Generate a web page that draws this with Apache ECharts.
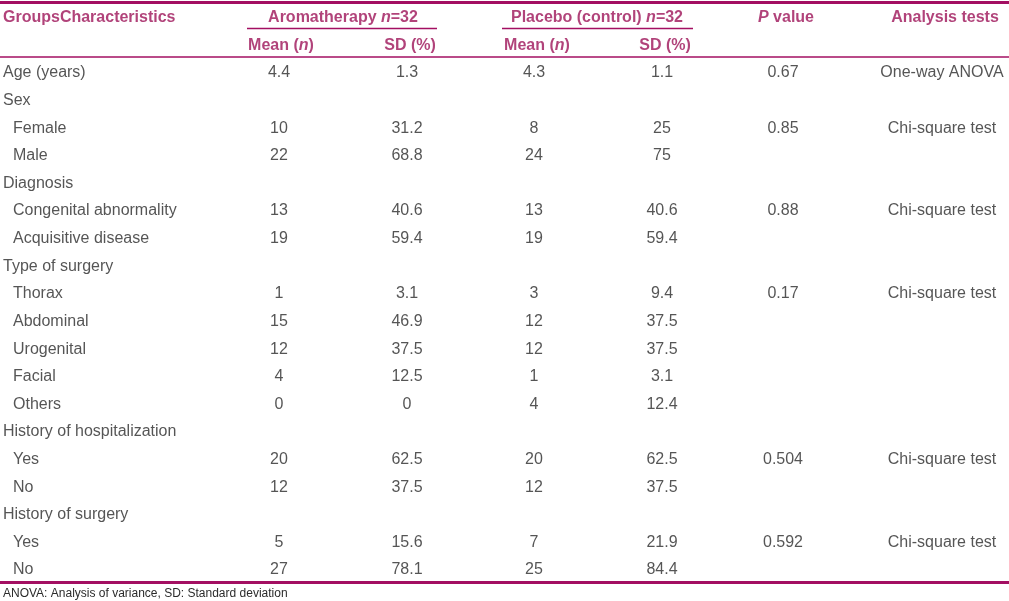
<!DOCTYPE html>
<html>
<head>
<meta charset="utf-8">
<script src="https://cdn.jsdelivr.net/npm/echarts@6/dist/echarts.min.js"></script>
<style>html,body{margin:0;padding:0;background:#fff}#chart{width:1009px;height:601px}</style>
</head>
<body>
<div id="chart"></div>
<script>
// ---------- DATA ----------
const characteristics = ['Age (years)','Sex','Female','Male','Diagnosis','Congenital abnormality','Acquisitive disease','Type of surgery','Thorax','Abdominal','Urogenital','Facial','Others','History of hospitalization','Yes','No','History of surgery','Yes','No'];
const level = [0,0,1,1,0,1,1,0,1,1,1,1,1,0,1,1,0,1,1];
const aromaMean = [4.4,null,10,22,null,13,19,null,1,15,12,4,0,null,20,12,null,5,27];
const aromaSD = [1.3,null,31.2,68.8,null,40.6,59.4,null,3.1,46.9,37.5,12.5,0,null,62.5,37.5,null,15.6,78.1];
const placeboMean = [4.3,null,8,24,null,13,19,null,3,12,12,1,4,null,20,12,null,7,25];
const placeboSD = [1.1,null,25,75,null,40.6,59.4,null,9.4,37.5,37.5,3.1,12.4,null,62.5,37.5,null,21.9,84.4];
const pValue = ['0.67',null,'0.85',null,null,'0.88',null,null,'0.17',null,null,null,null,null,'0.504',null,null,'0.592',null];
const tests = ['One-way ANOVA',null,'Chi-square test',null,null,'Chi-square test',null,null,'Chi-square test',null,null,null,null,null,'Chi-square test',null,null,'Chi-square test',null];
const headerTop = ['{b|GroupsCharacteristics}','{b|Aromatherapy }{bi|n}{b|=32}','{b|Placebo (control) }{bi|n}{b|=32}','{bi|P}{b| value}','{b|Analysis tests}'];
const headerSub = ['{b|Mean (}{bi|n}{b|)}','{b|SD (%)}','{b|Mean (}{bi|n}{b|)}','{b|SD (%)}'];
const footnote = 'ANOVA: Analysis of variance, SD: Standard deviation';

// ---------- LAYOUT / STYLE ----------
const FONT = "'Liberation Sans', Arial, sans-serif";
const TXT = '#2b2b2b';
const MAG = '#9e1459';
const LINE = '#a30f62';
const colX = { label: 3, indent: 13, aM: 279, aS: 407, pM: 534, pS: 662, p: 783, t: 942 };
const headTopX = [3, 343, 597, 786, 945];
const headSubX = [281, 410, 537, 665];
const rows = { top: -2, sub: -1, topLine: -2.5, underline: -1.557, headLine: -0.525, bottomLine: 18.5 };
const TEXT_SHIFT = [0, 2];

const fmt = v => (v === null || v === undefined) ? null : String(v);

function colData(arr, x) {
  const out = [];
  arr.forEach((v, i) => { const s = fmt(v); if (s !== null) out.push([x, i, s]); });
  return out;
}

const bodyLabel = (align) => ({
  show: true, position: 'inside', align: align, verticalAlign: 'middle', offset: TEXT_SHIFT,
  color: TXT, fontSize: 16, fontFamily: FONT,
  formatter: p => p.value[2]
});
const richHead = {
  b: { color: MAG, fontSize: 16, fontWeight: 'bold', fontFamily: FONT },
  bi: { color: MAG, fontSize: 16, fontWeight: 'bold', fontStyle: 'italic', fontFamily: FONT }
};
const headLabel = (align) => ({
  show: true, position: 'inside', align: align, verticalAlign: 'middle', offset: TEXT_SHIFT,
  rich: richHead, formatter: p => p.value[2]
});

function textSeries(data, align, head) {
  return {
    type: 'scatter', symbol: 'circle', symbolSize: 1, silent: true, clip: false, animation: false,
    data: data, label: head ? headLabel(align) : bodyLabel(align),
    itemStyle: { color: 'rgba(0,0,0,0)' },
    emphasis: { disabled: true }
  };
}

const labelData = characteristics.map((c, i) => [level[i] ? colX.indent : colX.label, i, c]);

const hTopData = headerTop.map((h, i) => [headTopX[i], rows.top, h]);
const hSubData = headerSub.map((h, i) => [headSubX[i], rows.sub, h]);

const lineSeg = (x1, x2, y, w) => [
  { coord: [x1, y], lineStyle: { width: w, color: LINE, type: 'solid' } },
  { coord: [x2, y] }
];

const option = {
  backgroundColor: '#fff',
  animation: false,
  title: {
    text: footnote, left: 3, top: 588, padding: 0,
    textStyle: { fontSize: 12, fontWeight: 'normal', color: TXT, fontFamily: FONT }
  },
  grid: { left: 0, right: 0, top: 2, bottom: 19.2 },
  xAxis: { type: 'value', min: 0, max: 1009, show: false },
  yAxis: { type: 'value', min: -2.5, max: 18.5, inverse: true, show: false },
  series: [
    textSeries(labelData, 'left', false),
    textSeries(colData(aromaMean, colX.aM), 'center', false),
    textSeries(colData(aromaSD, colX.aS), 'center', false),
    textSeries(colData(placeboMean, colX.pM), 'center', false),
    textSeries(colData(placeboSD, colX.pS), 'center', false),
    textSeries(colData(pValue, colX.p), 'center', false),
    textSeries(colData(tests, colX.t), 'center', false),
    textSeries([hTopData[0]], 'left', true),
    textSeries(hTopData.slice(1), 'center', true),
    textSeries(hSubData, 'center', true),
    {
      type: 'scatter', data: [], silent: true, clip: false,
      markLine: {
        silent: true, symbol: ['none', 'none'], label: { show: false }, animation: false,
        emphasis: { disabled: true },
        data: [
          lineSeg(0, 1009, rows.topLine, 3),
          lineSeg(247, 437, rows.underline, 1.3),
          lineSeg(502, 693, rows.underline, 1.3),
          lineSeg(0, 1009, rows.headLine, 1.6),
          lineSeg(0, 1009, rows.bottomLine, 3)
        ]
      }
    }
  ]
};

const chart = echarts.init(document.getElementById('chart'), null, { renderer: 'canvas' });
chart.setOption(option);
</script>
</body>
</html>
